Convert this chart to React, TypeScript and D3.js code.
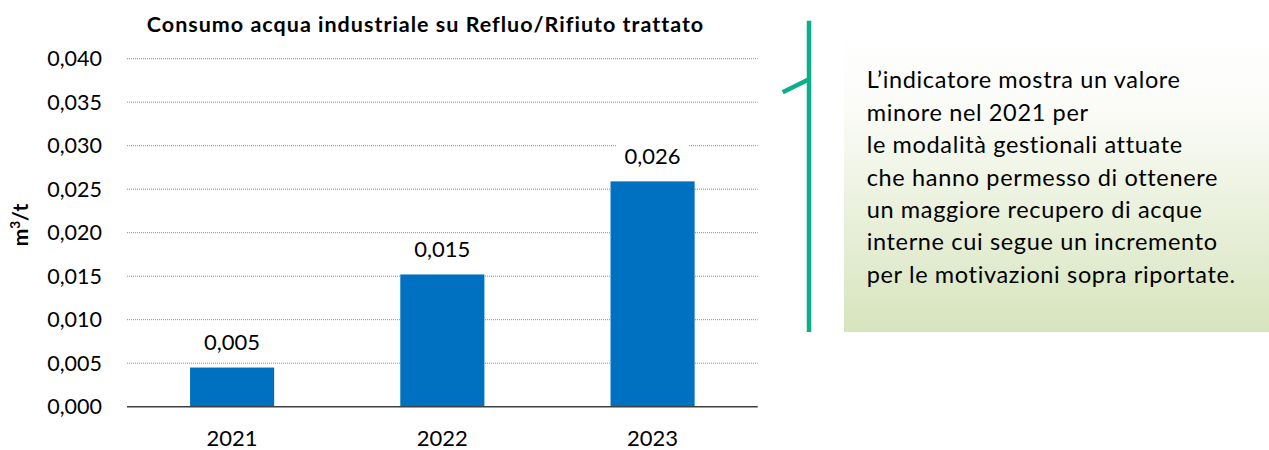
import React from "react";
import * as d3 from "d3";

const categories = ["2021", "2022", "2023"];
const values = [0.0045, 0.0152, 0.0259];
const valueLabels = ["0,005", "0,015", "0,026"];
const yTicks = [0, 0.005, 0.01, 0.015, 0.02, 0.025, 0.03, 0.035, 0.04];
const title = "Consumo acqua industriale su Refluo/Rifiuto trattato";
const noteLines = [
  "L’indicatore mostra un valore",
  "minore nel 2021 per",
  "le modalità gestionali attuate",
  "che hanno permesso di ottenere",
  "un maggiore recupero di acque",
  "interne cui segue un incremento",
  "per le motivazioni sopra riportate.",
];

const FONT = "Lato, 'Open Sans', sans-serif";

export default function App() {
  const W = 1269;
  const H = 450;
  const left = 127;
  const right = 757.7;
  const top = 58.7;
  const bottom = 406.7;

  const x = d3.scaleBand<string>().domain(categories).range([left, right]).paddingInner(0.6).paddingOuter(0.3);
  const y = d3.scaleLinear().domain([0, 0.04]).range([bottom, top]);
  const fmt = (v: number) => d3.format(".3f")(v).replace(".", ",");

  const boxX = 844;
  const boxY = 30;
  const boxB = 332;

  return (
    <div style={{ position: "absolute", left: 0, top: 0 }}>
      <svg width={W} height={H} style={{ display: "block", background: "#fff" }}>
        <defs>
          <linearGradient id="boxGrad" x1="0" y1="0" x2="0" y2="1">
            <stop offset="0%" stopColor="#ffffff" />
            <stop offset="25%" stopColor="#fbfcf8" />
            <stop offset="100%" stopColor="#d7e4bd" />
          </linearGradient>
        </defs>
        <text x={425.5} y={31.7} textAnchor="middle" fontFamily={FONT} fontWeight="bold" fontSize={21.5} letterSpacing={1.0} fill="#000">
          {title}
        </text>
        {yTicks.map((t) =>
          t > 0 ? (
            <line key={"g" + t} x1={left} x2={right} y1={y(t)} y2={y(t)} stroke="#8c8c8c" strokeWidth={1} strokeDasharray="1,1" />
          ) : null
        )}
        {yTicks.map((t) => (
          <text key={"t" + t} x={102} y={y(t) + 7.5} textAnchor="end" fontFamily={FONT} fontSize={21.5} fill="#000">
            {fmt(t)}
          </text>
        ))}
        <text transform={`translate(28,225) rotate(-90)`} textAnchor="middle" fontFamily={FONT} fontWeight="bold" fontSize={21} fill="#000">
          m<tspan baselineShift="super" fontSize={13.5}>3</tspan>/t
        </text>
        {categories.map((c, i) => (
          <rect key={"b" + c} x={x(c)} y={y(values[i])} width={x.bandwidth()} height={bottom - y(values[i])} fill="#0070c0" />
        ))}
        <line x1={left} x2={right} y1={bottom} y2={bottom} stroke="#404040" strokeWidth={1.5} />
        {categories.map((c, i) => {
          const cx = (x(c) as number) + x.bandwidth() / 2;
          const by = y(values[i]) - 17.5;
          return (
            <g key={"l" + c}>
              <rect x={cx - 36} y={by - 21} width={72} height={27} fill="#fff" />
              <text x={cx} y={by} textAnchor="middle" fontFamily={FONT} fontSize={22} fill="#000">
                {valueLabels[i]}
              </text>
            </g>
          );
        })}
        {categories.map((c) => (
          <text key={"x" + c} x={(x(c) as number) + x.bandwidth() / 2} y={446} textAnchor="middle" fontFamily={FONT} fontSize={22} fill="#000">
            {c}
          </text>
        ))}
        <rect x={boxX} y={boxY} width={W - boxX} height={boxB - boxY} fill="url(#boxGrad)" />
        <line x1={809} x2={809} y1={20.7} y2={332} stroke="#0cb088" strokeWidth={4.5} />
        <line x1={782.7} y1={92.3} x2={809} y2={79.3} stroke="#0cb088" strokeWidth={4.5} />
        {noteLines.map((l, i) => (
          <text key={"n" + i} x={866.7} y={88.3 + i * 32.4} fontFamily={FONT} fontSize={23.5} letterSpacing={0.65} fill="#000">
            {l}
          </text>
        ))}
      </svg>
    </div>
  );
}
